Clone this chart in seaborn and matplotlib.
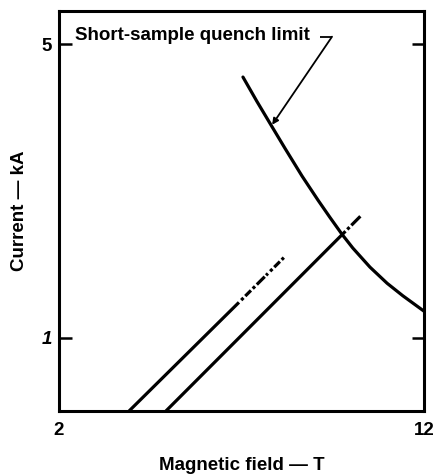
import matplotlib
matplotlib.use("Agg")
import matplotlib.pyplot as plt
import seaborn as sns
import pandas as pd

# Load lines (field in T, current in kA); the tail of each line is drawn dash-dot
load_a_field = [3.92, 6.93]
load_a_current = [0.0, 1.48]
load_a_ext_field = [6.93, 8.16]
load_a_ext_current = [1.48, 2.09]

load_b_field = [4.93, 9.75]
load_b_current = [0.0, 2.40]
load_b_ext_field = [9.75, 10.27]
load_b_ext_current = [2.40, 2.66]

# Short-sample quench limit curve
quench_field = [7.04, 7.42, 7.84, 8.19, 8.66, 9.10, 9.42, 9.75,
                10.05, 10.52, 10.99, 11.42, 12.0]
quench_current = [4.55, 4.22, 3.87, 3.58, 3.20, 2.87, 2.64, 2.41,
                  2.22, 1.96, 1.74, 1.57, 1.36]

x_ticks = [2, 12]
y_ticks = [1, 5]

sns.set_theme(style="white")
plt.rcParams["font.family"] = ["Liberation Sans", "DejaVu Sans"]
plt.rcParams["font.weight"] = "bold"
plt.rcParams["text.color"] = "black"
plt.rcParams["axes.labelcolor"] = "black"
plt.rcParams["xtick.color"] = "black"
plt.rcParams["ytick.color"] = "black"
plt.rcParams["xtick.labelcolor"] = "black"
plt.rcParams["ytick.labelcolor"] = "black"

FS = 13.5

fig = plt.figure(figsize=(4.34, 4.74), dpi=100)
ax = fig.add_axes([59 / 434, 63 / 474, 365 / 434, 400 / 474])

lw = 2.3
solid = dict(color="black", lw=lw, sort=False, legend=False)

sns.lineplot(data=pd.DataFrame({"B": load_a_field, "I": load_a_current}),
             x="B", y="I", ax=ax, solid_capstyle="butt", **solid)
sns.lineplot(data=pd.DataFrame({"B": load_b_field, "I": load_b_current}),
             x="B", y="I", ax=ax, solid_capstyle="butt", **solid)
sns.lineplot(data=pd.DataFrame({"B": quench_field, "I": quench_current}),
             x="B", y="I", ax=ax, solid_capstyle="round",
             solid_joinstyle="round", **solid)

# Dash-dot extensions beyond the solid part of each load line
sns.lineplot(data=pd.DataFrame({"B": load_a_ext_field, "I": load_a_ext_current}),
             x="B", y="I", ax=ax,
             linestyle=(0.8, (0.8, 1.0, 1.0, 0.8, 2.5, 0.8, 1.0, 0.8, 3.5, 0.6)),
             dash_capstyle="butt", **solid)
sns.lineplot(data=pd.DataFrame({"B": load_b_ext_field, "I": load_b_ext_current}),
             x="B", y="I", ax=ax, linestyle=(0, (1.6, 0.8, 1.0, 0.8, 4.0, 1.0)),
             dash_capstyle="butt", **solid)

ax.set_xlim(2, 12)
ax.set_ylim(0, 5.45)

ax.set_xticks(x_ticks)
ax.set_xticklabels([str(v) for v in x_ticks], fontsize=FS, fontweight="bold",
                   color="black")
ax.set_yticks(y_ticks)
ax.set_yticklabels([str(v) for v in y_ticks], fontsize=FS, fontweight="bold",
                   color="black")
ax.get_yticklabels()[0].set_style("italic")

ax.tick_params(axis="x", length=0, pad=8)
ax.tick_params(axis="y", which="both", direction="in", length=9, width=1.8,
               color="black", left=True, right=True, pad=5)

for s in ax.spines.values():
    s.set_visible(True)
    s.set_color("black")
    s.set_linewidth(2.2)

ax.set_xlabel("Magnetic field — T", fontsize=FS, fontweight="bold", labelpad=13,
              color="black")
ax.set_ylabel("Current — kA", fontsize=FS, fontweight="bold", color="black")
ax.yaxis.set_label_coords(-0.085, 0.50)

# Curve annotation with a hooked leader
ax.text(2.44, 5.12, "Short-sample quench limit", fontsize=FS, fontweight="bold",
        ha="left", va="center", color="black")
ax.plot([9.15, 9.48], [5.10, 5.10], color="black", lw=1.3, solid_capstyle="butt")
ax.annotate("", xy=(7.84, 3.90), xytext=(9.48, 5.10),
            arrowprops=dict(arrowstyle="-|>", color="black", lw=1.3,
                            mutation_scale=9, shrinkA=0, shrinkB=0))

fig.savefig("out.png", dpi=100, facecolor="white")
